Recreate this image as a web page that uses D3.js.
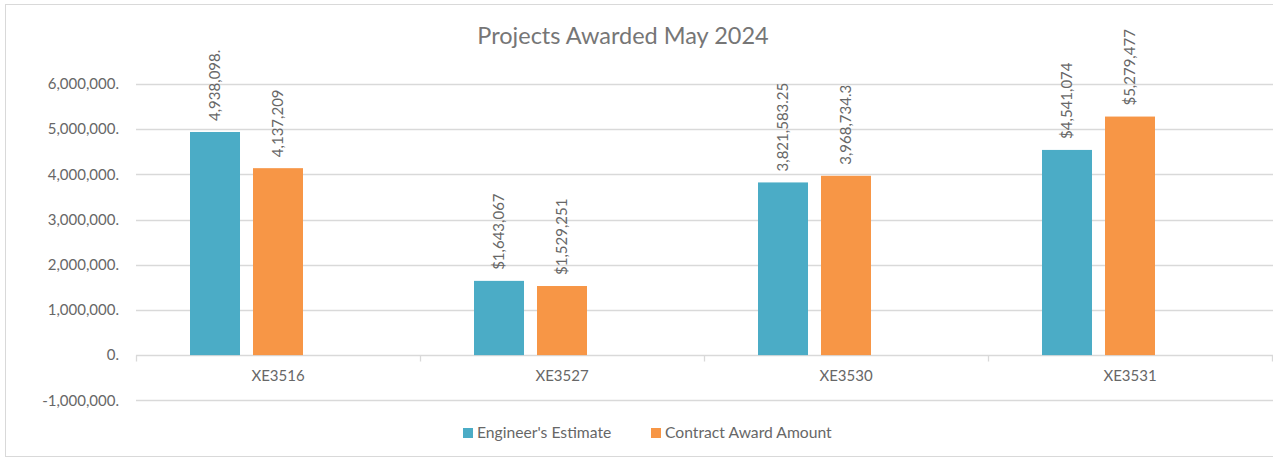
<!DOCTYPE html>
<html>
<head>
<meta charset="utf-8">
<script src="https://cdn.jsdelivr.net/npm/d3@7"></script>
<style>
  body { margin: 0; background: #fff; }
  svg { display: block; font-family: Lato, "Open Sans", sans-serif; }
</style>
</head>
<body>
<div id="chart"></div>
<script>
// Chart data
const categories = ["XE3516", "XE3527", "XE3530", "XE3531"];
const seriesNames = ["Engineer's Estimate", "Contract Award Amount"];
const estimateValues = [4938098, 1643067, 3821583.25, 4541074];
const awardValues = [4137209, 1529251, 3968734.3, 5279477];
const estimateLabels = ["4,938,098.", "$1,643,067", "3,821,583.25", "$4,541,074"];
const awardLabels = ["4,137,209", "$1,529,251", "3,968,734.3", "$5,279,477"];
const yTicks = [-1000000, 0, 1000000, 2000000, 3000000, 4000000, 5000000, 6000000];
const title = "Projects Awarded May 2024";

const colors = ["#4bacc6", "#f79646"];
const textColor = "#676767";
const titleColor = "#767676";
const gridColor = "#d9d9d9";

const width = 1273, height = 458;
const plot = {left: 136, right: 1272, top: 84, bottom: 400.3};

const svg = d3.select("#chart").append("svg")
    .attr("width", width)
    .attr("height", height);

// Chart border (cropped on the right in the original)
svg.append("rect")
    .attr("x", 5.5).attr("y", 4.5)
    .attr("width", width + 10).attr("height", 452)
    .attr("fill", "#fff")
    .attr("stroke", gridColor);

// Scales
const y = d3.scaleLinear()
    .domain([-1000000, 6000000])
    .range([plot.bottom, plot.top]);

const x0 = d3.scaleBand()
    .domain(categories)
    .range([plot.left, plot.right]);

// three slots per cluster, the last one is empty (as in the source sheet)
const slots = [...seriesNames, "blank"];
const x1 = d3.scaleBand()
    .domain(slots)
    .range([54, 230])
    .paddingInner(0.2063);

// Gridlines + tick labels
const fmt = d3.formatLocale({decimal: ".", thousands: ",", grouping: [3], currency: ["$", ""], minus: "-"}).format(",");
const yAxis = d3.axisLeft(y)
    .tickValues(yTicks)
    .tickSize(0)
    .tickPadding(17)
    .tickFormat(d => fmt(d) + ".");

const yAxisG = svg.append("g")
    .attr("transform", `translate(${plot.left},0)`)
    .call(yAxis);
yAxisG.select(".domain").remove();
yAxisG.selectAll("text")
    .attr("fill", textColor)
    .style("font-size", "15px")
    .style("font-family", "Lato, sans-serif");

svg.append("g")
    .selectAll("line")
    .data(yTicks)
    .join("line")
    .attr("x1", plot.left).attr("x2", width)
    .attr("y1", d => Math.round(y(d)) + 0.5)
    .attr("y2", d => Math.round(y(d)) + 0.5)
    .attr("stroke", gridColor)
    .attr("stroke-width", 1.3);

// Category axis at zero
const xAxis = d3.axisBottom(x0).tickSize(0).tickPadding(15);
const xAxisG = svg.append("g")
    .attr("transform", `translate(0,${Math.round(y(0)) + 0.5})`)
    .call(xAxis);
xAxisG.select(".domain").remove();
xAxisG.selectAll("text")
    .attr("fill", textColor)
    .style("font-size", "15px")
    .style("font-family", "Lato, sans-serif");

// tick marks at band boundaries
const boundaries = categories.map(c => x0(c)).concat([x0.range()[1]]);
xAxisG.selectAll(".bound")
    .data(boundaries)
    .join("line")
    .attr("class", "bound")
    .attr("x1", d => Math.round(d) + 0.5).attr("x2", d => Math.round(d) + 0.5)
    .attr("y1", 0).attr("y2", 6)
    .attr("stroke", gridColor)
    .attr("stroke-width", 1.3);

// Bars
const seriesData = [estimateValues, awardValues];
const seriesLabels = [estimateLabels, awardLabels];

seriesNames.forEach((name, si) => {
  const rows = categories.map((c, i) => ({cat: c, value: seriesData[si][i], label: seriesLabels[si][i]}));
  const g = svg.append("g");

  g.selectAll("rect")
    .data(rows)
    .join("rect")
    .attr("x", d => x0(d.cat) + x1(name))
    .attr("width", x1.bandwidth())
    .attr("y", d => y(d.value))
    .attr("height", d => y(0) - y(d.value))
    .attr("fill", colors[si]);

  g.selectAll("text")
    .data(rows)
    .join("text")
    .attr("transform", d => {
      const cx = x0(d.cat) + x1(name) + x1.bandwidth() / 2;
      return `translate(${cx},${y(d.value) - 11}) rotate(-90)`;
    })
    .attr("dy", "0.35em")
    .attr("fill", textColor)
    .style("font-size", "15px")
    .text(d => d.label);
});

// Title
svg.append("text")
    .attr("x", 623)
    .attr("y", 44)
    .attr("text-anchor", "middle")
    .attr("fill", titleColor)
    .style("font-size", "23.5px")
    .text(title);

// Legend
const legendX = [463, 651];
const legend = svg.append("g");
seriesNames.forEach((name, i) => {
  legend.append("rect")
    .attr("x", legendX[i]).attr("y", 428)
    .attr("width", 10).attr("height", 10)
    .attr("fill", colors[i]);
  legend.append("text")
    .attr("x", legendX[i] + 14)
    .attr("y", 433)
    .attr("dy", "0.35em")
    .attr("fill", textColor)
    .style("font-size", "15.7px")
    .text(name);
});
</script>
</body>
</html>
